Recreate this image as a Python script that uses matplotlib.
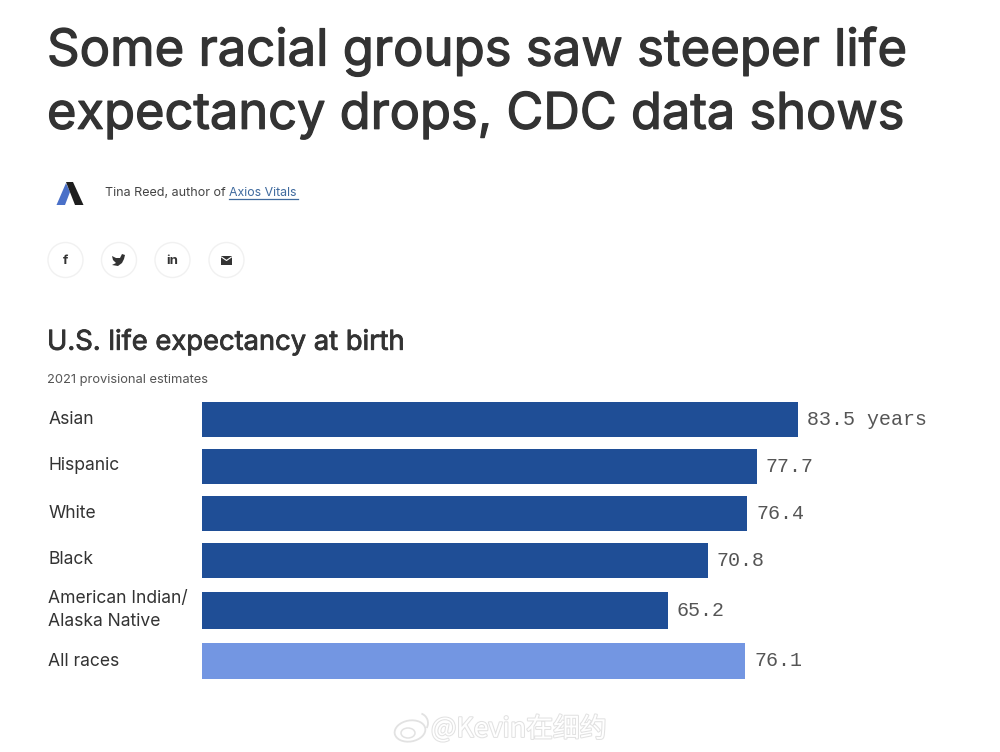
import matplotlib
matplotlib.use("Agg")
import matplotlib.pyplot as plt
import matplotlib.patheffects as pe
from matplotlib.patches import Circle, Polygon, Rectangle, Ellipse, Arc

categories = ["Asian", "Hispanic", "White", "Black", "American Indian/\nAlaska Native", "All races"]
values = [83.5, 77.7, 76.4, 70.8, 65.2, 76.1]
value_labels = ["83.5 years", "77.7", "76.4", "70.8", "65.2", "76.1"]
bar_colors = ["#1F4E96"] * 5 + ["#7396E2"]
title_lines = ["Some racial groups saw steeper life", "expectancy drops, CDC data shows"]
chart_title = "U.S. life expectancy at birth"
chart_subtitle = "2021 provisional estimates"

FONT = "Inter"
INK = "#333333"
W, H = 1000, 752
fig = plt.figure(figsize=(W / 100, H / 100), dpi=100, facecolor="white")


def thick(width, color=INK):
    return [pe.withStroke(linewidth=width, foreground=color)]


page = fig.add_axes([0, 0, 1, 1])
page.set_xlim(0, W)
page.set_ylim(H, 0)
page.axis("off")

# Headline
page.text(47, 51, title_lines[0], fontsize=36.6, color=INK, family=FONT, va="center", ha="left",
          path_effects=thick(0.9))
page.text(47, 115, title_lines[1], fontsize=36.4, color=INK, family=FONT, va="center", ha="left",
          path_effects=thick(0.9))

# Logo and byline
page.add_patch(Polygon([(56.5, 205), (65, 205), (70, 192), (66, 183)], color="#4A70C8", lw=0))
page.add_patch(Polygon([(66, 182), (73, 182), (83.5, 205), (75, 205)], color="#1E1E1E", lw=0))
page.text(105, 193, "Tina Reed, author of ", fontsize=9, color="#444444", family=FONT, va="center", ha="left")
page.text(229, 193, "Axios Vitals", fontsize=8.9, color="#3F6A9E", family=FONT, va="center", ha="left")
page.plot([229, 298], [199, 199], color="#3F6A9E", lw=0.9)

# Share buttons
for cx in (65.5, 119, 172.5, 226.5):
    page.add_patch(Circle((cx, 260), 17.5, fc="white", ec="#F1F1F1", lw=1))
page.text(65.5, 260.5, "f", fontsize=9.5, fontweight="bold", color="#333333", family=FONT, ha="center", va="center")
page.add_patch(Polygon([(112, 256), (116, 258), (120, 258), (122, 254), (125, 255), (124, 259),
                        (122, 263), (118, 266), (112, 265), (116, 263), (113, 260)],
                       color="#333333", lw=0))
page.text(172.5, 260.5, "in", fontsize=9.5, fontweight="bold", color="#333333", family=FONT, ha="center", va="center")
page.add_patch(Rectangle((221, 255.5), 11, 9, fc="#333333", ec="none"))
page.plot([221.5, 226.5, 231.5], [257, 260.5, 257], color="white", lw=0.8)

# Chart heading
page.text(47, 342.5, chart_title, fontsize=19.7, color=INK, family=FONT, va="center", ha="left",
          path_effects=thick(0.6))
page.text(47, 379.5, chart_subtitle, fontsize=9.3, color="#555555", family=FONT, va="center", ha="left")

# Bars: pixel-aligned vertical scale, fixed pixels per year horizontally
row_top = [402, 449, 496, 543, 592, 643]
row_height = [35, 35, 35, 35, 37, 36]
px_per_year = 7.14
ax = fig.add_axes([202 / W, 0, 100 * px_per_year / W, 1], facecolor="none")
ax.set_xlim(0, 100)
ax.set_ylim(H, 0)
ax.axis("off")
centers = [t + h / 2 for t, h in zip(row_top, row_height)]
ax.barh(centers, values, height=row_height, color=bar_colors, linewidth=0)
for c, v, lab in zip(centers, values, value_labels):
    ax.annotate(lab, (v, c), xytext=(9, 0), textcoords="offset pixels",
                fontsize=14.4, family="Liberation Mono", color="#555555", va="center", ha="left")
label_y = [419, 466, 513, 560, 610, 661]
for lab, y in zip(categories, label_y):
    page.text(48.5, y, lab, fontsize=12.6, color=INK, family=FONT, va="center", ha="left", linespacing=1.4)

# Watermark
WM = "#E2E2E2"
page.add_patch(Ellipse((410, 731), 31, 21, angle=-10, fc="white", ec=WM, lw=1.3))
page.add_patch(Ellipse((408, 733), 14, 10, fc="none", ec=WM, lw=1.1))
page.add_patch(Arc((418, 723), 20, 20, theta1=-70, theta2=30, color=WM, lw=1.3))
page.text(431, 729, "@Kevin在细约", fontsize=19.3, color="white",
          family=["Noto Sans CJK SC", "DejaVu Sans"], va="center", ha="left",
          path_effects=[pe.withStroke(linewidth=1.5, foreground=WM)])

fig.savefig("out.png", dpi=100, facecolor="white")
